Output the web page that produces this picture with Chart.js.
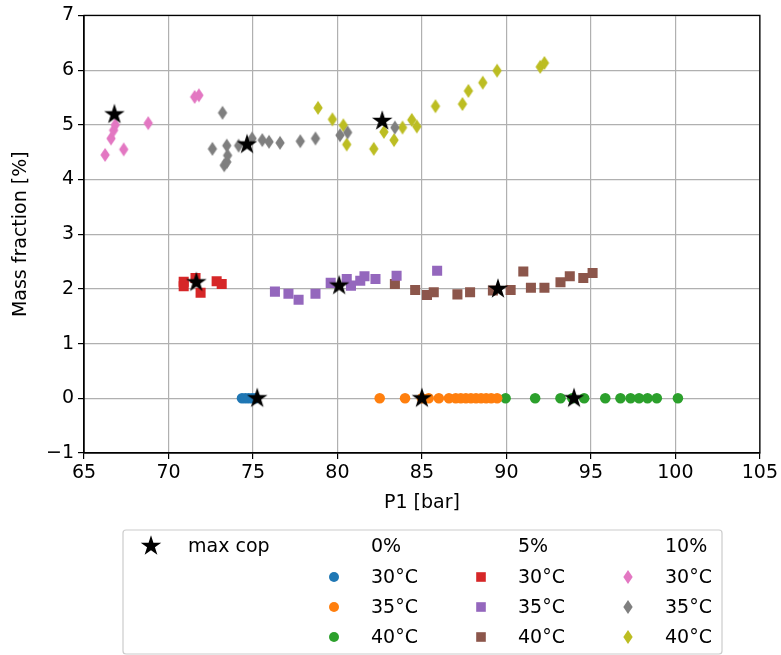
<!DOCTYPE html>
<html>
<head>
<meta charset="utf-8">
<script src="https://cdn.jsdelivr.net/npm/chart.js@4.4.1/dist/chart.umd.min.js"></script>
<style>
  html, body { margin: 0; background: #fff; }
</style>
</head>
<body>
<canvas id="chart" width="781" height="655"></canvas>
<script>
'use strict';

// ── DATA ──────────────────────────────────────────────────────
// P1 [bar] (x) and mass fraction [%] (y) per oil fraction / temperature

const xTicks = [65, 70, 75, 80, 85, 90, 95, 100, 105];
const yTicks = [-1, 0, 1, 2, 3, 4, 5, 6, 7];

// 0 %
const x0_30 = [74.35, 74.55, 74.75, 74.95, 75.15];
const y0_30 = [0, 0, 0, 0, 0];
const x0_35 = [82.5, 84.0, 85.0, 85.4, 86.0, 86.6, 87.0, 87.3, 87.6, 87.9, 88.2, 88.5, 88.8, 89.1, 89.45];
const y0_35 = [0, 0, 0, 0, 0, 0, 0, 0, 0, 0, 0, 0, 0, 0, 0];
const x0_40 = [89.95, 91.7, 93.2, 93.9, 94.6, 95.85, 96.75, 97.35, 97.85, 98.35, 98.9, 100.15];
const y0_40 = [0, 0, 0, 0, 0, 0, 0, 0, 0, 0, 0, 0];

// 5 %
const x5_30 = [70.9, 70.9, 71.6, 71.9, 72.85, 73.15];
const y5_30 = [2.13, 2.05, 2.2, 1.93, 2.14, 2.09];
const x5_35 = [76.3, 77.1, 77.7, 78.7, 79.6, 80.55, 80.8, 81.35, 81.6, 82.25, 83.5, 85.9];
const y5_35 = [1.95, 1.91, 1.8, 1.91, 2.11, 2.18, 2.06, 2.15, 2.23, 2.18, 2.24, 2.33];
const x5_40 = [83.4, 84.6, 85.3, 85.7, 87.1, 87.85, 89.2, 90.25, 91.0, 91.45, 92.25, 93.2, 93.75, 94.55, 95.1];
const y5_40 = [2.09, 1.98, 1.89, 1.94, 1.9, 1.94, 1.97, 1.98, 2.32, 2.02, 2.02, 2.12, 2.23, 2.2, 2.29];

// 10 %
const x10_30 = [66.25, 66.6, 66.75, 66.85, 67.35, 68.8, 71.55, 71.8];
const y10_30 = [4.45, 4.75, 4.9, 5.0, 4.55, 5.03, 5.51, 5.54];
const x10_35 = [72.6, 73.2, 73.3, 73.45, 73.5, 73.45, 74.15, 74.95, 75.55, 75.95, 76.6, 77.8, 78.7, 80.15, 80.6, 83.4];
const y10_35 = [4.56, 5.22, 4.26, 4.32, 4.44, 4.62, 4.62, 4.75, 4.72, 4.69, 4.67, 4.7, 4.75, 4.81, 4.86, 4.95];
const x10_40 = [78.85, 79.7, 80.35, 80.55, 82.15, 82.75, 83.35, 83.85, 84.4, 84.7, 85.8, 87.4, 87.75, 88.6, 89.45, 92.0, 92.25];
const y10_40 = [5.31, 5.1, 4.99, 4.64, 4.56, 4.87, 4.72, 4.95, 5.09, 4.97, 5.34, 5.38, 5.62, 5.77, 5.99, 6.06, 6.13];

// max cop
const xMax = [66.8, 74.65, 82.65, 71.65, 80.1, 89.5, 75.25, 85.0, 94.0];
const yMax = [5.19, 4.64, 5.07, 2.12, 2.06, 2.0, 0, 0, 0];

const pairs = (xs, ys) => xs.map((x, i) => ({ x, y: ys[i] }));

// ── MARKERS ───────────────────────────────────────────────────

function starMarker(r, color) {
  const s = Math.ceil(r * 2 + 2);
  const c = document.createElement('canvas');
  c.width = c.height = s;
  const g = c.getContext('2d');
  g.fillStyle = color;
  g.beginPath();
  for (let i = 0; i < 10; i++) {
    const rad = i % 2 ? r * 0.382 : r;
    const a = -Math.PI / 2 + i * Math.PI / 5;
    g.lineTo(s / 2 + rad * Math.cos(a), s / 2 + rad * Math.sin(a));
  }
  g.closePath();
  g.fill();
  return c;
}

function diamondMarker(w, h, color) {
  const c = document.createElement('canvas');
  c.width = Math.ceil(w + 2);
  c.height = Math.ceil(h + 2);
  const g = c.getContext('2d');
  const cx = c.width / 2, cy = c.height / 2;
  g.fillStyle = color;
  g.beginPath();
  g.moveTo(cx, cy - h / 2);
  g.lineTo(cx + w / 2, cy);
  g.lineTo(cx, cy + h / 2);
  g.lineTo(cx - w / 2, cy);
  g.closePath();
  g.fill();
  return c;
}

const C = {
  blue: '#1f77b4', orange: '#ff7f0e', green: '#2ca02c',
  red: '#d62728', purple: '#9467bd', brown: '#8c564b',
  pink: '#e377c2', gray: '#7f7f7f', olive: '#bcbd22',
};

const STAR = starMarker(10.8, '#000');
const DIA_W = 9.4, DIA_H = 14;

function circleSet(xs, ys, color) {
  return { data: pairs(xs, ys), pointStyle: 'circle', pointRadius: 5.3,
           backgroundColor: color, borderColor: color, borderWidth: 0, order: 2 };
}
function squareSet(xs, ys, color) {
  return { data: pairs(xs, ys), pointStyle: 'rect', pointRadius: 7.1,
           backgroundColor: color, borderColor: color, borderWidth: 0, order: 2 };
}
function diamondSet(xs, ys, color) {
  return { data: pairs(xs, ys), pointStyle: diamondMarker(DIA_W, DIA_H, color),
           backgroundColor: color, borderColor: color, order: 2 };
}

// ── PLUGINS ───────────────────────────────────────────────────

const FONT = "'DejaVu Sans', sans-serif";

const frame = {
  id: 'frame',
  beforeDatasetsDraw(chart) {
    const { ctx, chartArea: a } = chart;
    ctx.save();
    ctx.strokeStyle = '#000';
    ctx.lineWidth = 1.3;
    ctx.strokeRect(a.left, a.top, a.right - a.left, a.bottom - a.top);
    ctx.restore();
  },
};

const legendBox = {
  id: 'legendBox',
  afterDraw(chart) {
    const ctx = chart.ctx;
    ctx.save();
    // frame
    ctx.fillStyle = '#fff';
    ctx.strokeStyle = '#cccccc';
    ctx.lineWidth = 1.2;
    ctx.beginPath();
    ctx.roundRect(123, 530, 599, 124, 3);
    ctx.fill();
    ctx.stroke();

    const rows = [546, 577, 607, 637];
    const handleX = [151, 334, 481, 628];
    const textX = [188, 371, 518, 665];
    ctx.font = '19px ' + FONT;
    ctx.fillStyle = '#000';
    ctx.textBaseline = 'middle';

    const put = (img, x, y) => ctx.drawImage(img, x - img.width / 2, y - img.height / 2);
    put(STAR, handleX[0], rows[0]);
    ctx.fillText('max cop', textX[0], rows[0] + 1);

    const heads = ['0%', '5%', '10%'];
    const temps = ['30°C', '35°C', '40°C'];
    const cols = [
      [C.blue, C.orange, C.green],
      [C.red, C.purple, C.brown],
      [C.pink, C.gray, C.olive],
    ];
    cols.forEach((colors, k) => {
      ctx.fillStyle = '#000';
      ctx.fillText(heads[k], textX[k + 1], rows[0] + 1);
      colors.forEach((col, j) => {
        const hx = handleX[k + 1], hy = rows[j + 1];
        ctx.fillStyle = col;
        if (k === 0) {
          ctx.beginPath();
          ctx.arc(hx, hy, 5, 0, Math.PI * 2);
          ctx.fill();
        } else if (k === 1) {
          ctx.fillRect(hx - 4.8, hy - 4.8, 9.6, 9.6);
        } else {
          put(diamondMarker(DIA_W, DIA_H, col), hx, hy);
        }
        ctx.fillStyle = '#000';
        ctx.fillText(temps[j], textX[k + 1], hy + 1);
      });
    });
    ctx.restore();
  },
};

// ── CHART ─────────────────────────────────────────────────────

Chart.defaults.font.family = FONT;
Chart.defaults.color = '#000';

new Chart(document.getElementById('chart'), {
  type: 'scatter',
  data: {
    datasets: [
      { label: 'max cop', data: pairs(xMax, yMax), pointStyle: STAR,
        backgroundColor: '#000', borderColor: '#000', order: 0 },
      circleSet(x0_30, y0_30, C.blue),
      circleSet(x0_35, y0_35, C.orange),
      circleSet(x0_40, y0_40, C.green),
      squareSet(x5_30, y5_30, C.red),
      squareSet(x5_35, y5_35, C.purple),
      squareSet(x5_40, y5_40, C.brown),
      diamondSet(x10_30, y10_30, C.pink),
      diamondSet(x10_35, y10_35, C.gray),
      diamondSet(x10_40, y10_40, C.olive),
    ],
  },
  options: {
    responsive: false,
    animation: false,
    layout: { padding: { left: 0, top: 15, right: 21, bottom: 140 } },
    plugins: {
      legend: { display: false },
      tooltip: { enabled: false },
    },
    scales: {
      x: {
        type: 'linear',
        min: xTicks[0],
        max: xTicks[xTicks.length - 1],
        afterBuildTicks: s => { s.ticks = xTicks.map(v => ({ value: v })); },
        afterFit: s => { s.height = 62; },
        grid: { color: '#b0b0b0', lineWidth: 1.2, tickColor: '#000', tickLength: 6 },
        border: { color: '#000', width: 1.3 },
        ticks: { font: { size: 19 }, padding: 3, maxRotation: 0 },
        title: { display: true, text: 'P1 [bar]', font: { size: 19 }, padding: { top: 0, bottom: 1 } },
      },
      y: {
        type: 'linear',
        min: yTicks[0],
        max: yTicks[yTicks.length - 1],
        afterBuildTicks: s => { s.ticks = yTicks.map(v => ({ value: v })); },
        afterFit: s => { s.width = 84; },
        grid: { color: '#b0b0b0', lineWidth: 1.2, tickColor: '#000', tickLength: 6 },
        border: { color: '#000', width: 1.3 },
        ticks: {
          font: { size: 19 },
          padding: 4,
          callback: v => (v < 0 ? '\u2212' + Math.abs(v) : String(v)),
        },
        title: { display: true, text: 'Mass fraction [%]', font: { size: 19 }, padding: { top: 10, bottom: 0 } },
      },
    },
  },
  plugins: [frame, legendBox],
});
</script>
</body>
</html>
